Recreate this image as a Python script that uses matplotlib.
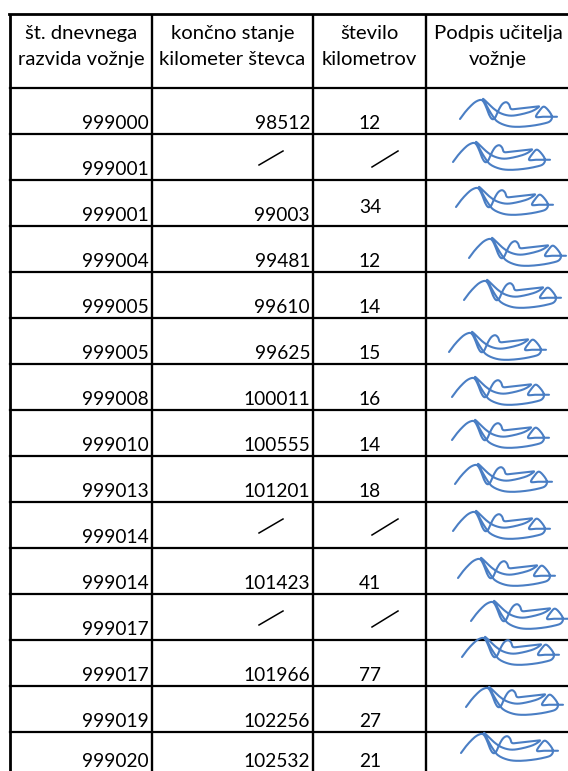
import numpy as np
import matplotlib
matplotlib.use('Agg')
import matplotlib.pyplot as plt
from matplotlib import font_manager as fm

# table content
header = ['št. dnevnega\nrazvida vožnje', 'končno stanje\nkilometer števca',
          'število\nkilometrov', 'Podpis učitelja\nvožnje']
razvid = ['999000', '999001', '999001', '999004', '999005', '999005', '999008',
          '999010', '999013', '999014', '999014', '999017', '999017', '999019', '999020']
stanje = ['98512', '/', '99003', '99481', '99610', '99625', '100011',
          '100555', '101201', '/', '101423', '/', '101966', '102256', '102532']
km = ['12', '/', '34', '12', '14', '15', '16', '14', '18', '/', '41', '/', '77', '27', '21']

# signature start offsets per row (x in px, y relative to row bottom)
sig_x = [460, 453, 456, 469, 464, 449, 452, 452, 455, 453, 458, 471, 462, 466, 461]
sig_dy = [-15, -18, -19, -14, -18, -12, -13, -16, -18, -17, -16, -19, -29, -25, -25]

# one scrawl, local pixel coords relative to the start point
sig_pts = np.array([(0, 0), (5, -6), (10, -11), (15, -15), (20, -17), (23, -16), (26, -11),
                    (29, -4), (32, 0), (35, -1), (38, -7), (42, -13), (46, -15), (49, -13),
                    (51, -9), (56, -9), (66, -10), (75, -11), (79, -11), (72, -7), (60, -4),
                    (50, -3), (41, -5), (34, -9), (28, -14), (23, -18), (26, -13), (31, -5),
                    (37, 2), (47, 6), (58, 7), (72, 6), (84, 4), (90, 2), (92, -2), (89, -7),
                    (84, -11), (80, -8), (76, -2), (83, -2), (92, -2), (97, -2)], float)
sig_pts[:, 1] *= 1.12


def smooth(p, n=8):
    # catmull-rom through the control points
    p = np.vstack([p[0], p, p[-1]])
    out = []
    for i in range(1, len(p) - 2):
        p0, p1, p2, p3 = p[i - 1], p[i], p[i + 1], p[i + 2]
        for t in np.linspace(0, 1, n, endpoint=False):
            t2, t3 = t * t, t * t * t
            out.append(0.5 * ((2 * p1) + (-p0 + p2) * t + (2 * p0 - 5 * p1 + 4 * p2 - p3) * t2
                              + (-p0 + 3 * p1 - 3 * p2 + p3) * t3))
    out.append(p[-2])
    return np.array(out)


sig = smooth(sig_pts)

# narrow font if we have one, else Lato
names = {f.name for f in fm.fontManager.ttflist}
if 'Liberation Sans Narrow' in names:
    font, fs, fs_head = ['Liberation Sans Narrow', 'DejaVu Sans'], 16, 16.5
else:
    font, fs, fs_head = ['Lato', 'DejaVu Sans'], 13.8, 14.6

W, H = 568, 771
fig = plt.figure(figsize=(W / 100, H / 100), dpi=100)
ax = fig.add_axes([0, 0, 1, 1])
ax.set_xlim(0, W)
ax.set_ylim(H, 0)
ax.axis('off')

cols = [10, 152, 313, 426, 640]
top, head_bot, row_h = 14, 88, 46
n = len(razvid)
bottoms = [head_bot + row_h * (i + 1) for i in range(n)]

# grid
for i, x in enumerate(cols[:4]):
    ax.plot([x, x], [top, H + 10], color='black', lw=2.0 if i == 0 else 1.7, solid_capstyle='butt')
ax.plot([cols[0] - 1, W], [top, top], color='black', lw=2.0)
for yb in [head_bot] + bottoms:
    ax.plot([cols[0], W], [yb, yb], color='black', lw=1.6)

# header
for j, h in enumerate(header):
    cx = (cols[j] + cols[j + 1]) / 2 if j < 3 else 498
    l1, l2 = h.split('\n')
    ax.text(cx, 39, l1, ha='center', va='baseline', fontsize=fs_head, family=font)
    ax.text(cx, 65, l2, ha='center', va='baseline', fontsize=fs_head, family=font)

# rows
for i in range(n):
    yb = bottoms[i]
    base = min(yb - 5, H - 4)
    ax.text(cols[1] - 3, base, razvid[i], ha='right', va='baseline', fontsize=fs, family=font)
    if stanje[i] == '/':
        ax.plot([259, 283], [yb - 15, yb - 29], color='black', lw=1.1)
    else:
        ax.text(cols[2] - 3, base, stanje[i], ha='right', va='baseline', fontsize=fs, family=font)
    if km[i] == '/':
        ax.plot([372, 398], [yb - 13, yb - 29], color='black', lw=1.1)
    else:
        lift = 8 if i == 2 else 0
        ax.text(370, base - lift, km[i], ha='center', va='baseline', fontsize=fs, family=font)
    ax.plot(sig[:, 0] + sig_x[i], sig[:, 1] + yb + sig_dy[i], color='#4a7ec4', lw=1.5,
            solid_capstyle='round', solid_joinstyle='round')

fig.savefig('out.png', dpi=100, facecolor='white')
